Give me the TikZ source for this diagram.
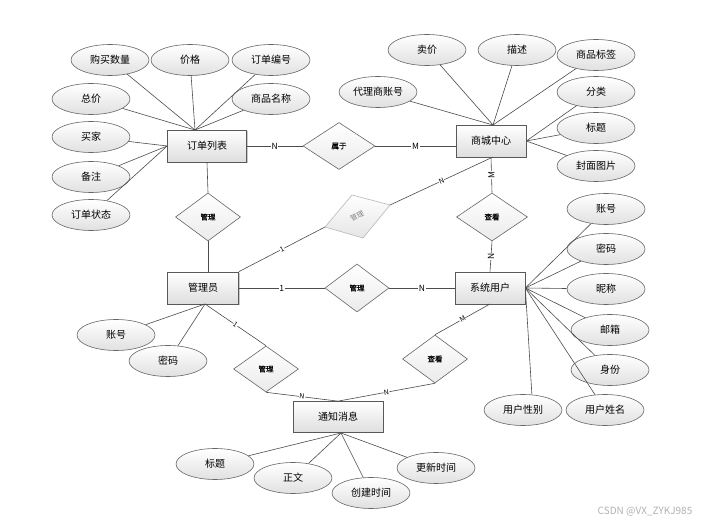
\documentclass[tikz,border=0pt]{standalone}
\usepackage{fontspec}
\setmainfont{Noto Sans CJK SC}
\newfontfamily\relfont[FakeBold=0.8]{Noto Sans CJK SC}
\usetikzlibrary{shapes.geometric,shadows}
\begin{document}
\begin{tikzpicture}[x=1pt,y=-1pt,
  ent/.style={draw=black!65, line width=0.7pt, top color=white, bottom color=black!13,
    minimum width=70pt, minimum height=32pt, inner sep=0pt,
    font=\fontsize{10}{12}\selectfont,
    drop shadow={shadow xshift=1pt, shadow yshift=-1pt, opacity=0.35, fill=black!60}},
  attr/.style={ellipse, draw=black!60, line width=0.6pt, top color=white, bottom color=black!12,
    minimum width=78pt, minimum height=31pt, inner sep=0pt,
    font=\fontsize{10}{12}\selectfont},
  rel/.style={diamond, draw=black!60, line width=0.6pt, top color=white, bottom color=black!8,
    minimum width=65pt, minimum height=48pt, inner sep=0pt,
    font=\relfont\fontsize{7.5}{9}\selectfont},
  ln/.style={draw=black!70, line width=0.6pt},
  card/.style={fill=white, inner sep=0.6pt, font=\fontsize{8.5}{9}\selectfont},
  scard/.style={fill=white, inner sep=0.4pt, font=\fontsize{7}{8}\selectfont, sloped}
]
\useasboundingbox (0,0) rectangle (721,526);
\fill[white] (0,0) rectangle (721,526);

% entities
\node[ent, minimum width=79pt] (ol) at (207,146) {订单列表};
\node[ent] (sc) at (491,141) {商城中心};
\node[ent, minimum width=71pt] (adm) at (203,288) {管理员};
\node[ent] (su) at (490,288) {系统用户};
\node[ent, minimum width=90pt, minimum height=31pt] (nt) at (338,417) {通知消息};

% relationships
\node[rel, minimum width=72pt, minimum height=47pt] (d1) at (339,146) {属于};
\node[rel] (d2) at (208,217) {管理};
\node[rel, minimum width=64pt] (d4) at (357,288) {管理};
\node[rel, minimum width=71pt] (d5) at (492,217) {查看};
\node[rel] (d6) at (435,359) {查看};
\node[rel, minimum height=46pt] (d7) at (266,369) {管理};

% gray skewed relationship
\coordinate (gT) at (352,195);
\coordinate (gR) at (390,205);
\coordinate (gB) at (363,238);
\coordinate (gL) at (325,227);
\path[draw=black!28, line width=0.6pt, top color=white, bottom color=black!10]
  (gT) -- (gR) -- (gB) -- (gL) -- cycle;
\node[text=black!50, rotate=28, inner sep=0pt, font=\fontsize{7}{8}\selectfont] (g) at (357,216) {管理};

% attachment points
\coordinate (olT) at (195,130);
\coordinate (scT) at (493,125);
\coordinate (scB) at (493,157);
\coordinate (suB) at (490,304);
\coordinate (admB) at (205,304);
\coordinate (ntB) at (341,433);

% order list attributes
\node[attr] (a1) at (110,60) {购买数量};
\node[attr] (a2) at (190,60) {价格};
\node[attr] (a3) at (271,60) {订单编号};
\node[attr] (a4) at (91,99) {总价};
\node[attr] (a5) at (271,99) {商品名称};
\node[attr] (a6) at (91,137) {买家};
\node[attr] (a7) at (91,177) {备注};
\node[attr] (a8) at (91,215) {订单状态};
\foreach \n in {a1,a2,a3,a4,a5} \draw[ln] (\n) -- (olT);
\foreach \n in {a6,a7,a8} \draw[ln] (\n) -- (ol.west);

% shopping center attributes
\node[attr] (b1) at (427,50) {卖价};
\node[attr] (b2) at (517,50) {描述};
\node[attr] (b3) at (596,55) {商品标签};
\node[attr] (b4) at (378,92) {代理商账号};
\node[attr] (b5) at (596,92) {分类};
\node[attr] (b6) at (596,128) {标题};
\node[attr] (b7) at (596,166) {封面图片};
\foreach \n in {b1,b2,b3,b4} \draw[ln] (\n) -- (scT);
\foreach \n in {b5,b6,b7} \draw[ln] (\n) -- (sc.east);

% system user attributes
\node[attr] (c1) at (606,209) {账号};
\node[attr] (c2) at (606,249) {密码};
\node[attr] (c3) at (606,289) {昵称};
\node[attr] (c4) at (610,330) {邮箱};
\node[attr] (c5) at (610,370) {身份};
\node[attr] (c6) at (605,410) {用户姓名};
\node[attr] (c7) at (523,410) {用户性别};
\foreach \n in {c1,c2,c3,c4,c5,c6} \draw[ln] (\n) -- (su.east);
\draw[ln] (su.east) -- (c7.60);

% admin attributes
\node[attr] (e1) at (116,335) {账号};
\node[attr] (e2) at (168,361) {密码};
\foreach \n in {e1,e2} \draw[ln] (\n) -- (admB);

% notification attributes
\node[attr] (f1) at (215,464) {标题};
\node[attr] (f2) at (293,478) {正文};
\node[attr] (f3) at (371,493) {创建时间};
\node[attr] (f4) at (436,468) {更新时间};
\foreach \n in {f1,f2,f3,f4} \draw[ln] (\n) -- (ntB);

% relationship connectors
\draw[ln] (ol.east) -- node[card] {N} (d1.west);
\draw[ln] (d1.east) -- node[card] {M} (d1.east -| sc.west);
\draw[ln] (ol.south) -- (d2.north);
\draw[ln] (d2.south) -- (d2.south |- adm.north);
\draw[ln] (adm.north east) -- node[scard] {1} (gL);
\draw[ln] (gR) -- node[scard] {N} (scB);
\draw[ln] (adm.east) -- node[card] {1} (d4.west);
\draw[ln] (d4.east) -- node[card] {N} (su.west);
\draw[ln] (sc.south) -- node[card, rotate=90] {M} (d5.north);
\draw[ln] (d5.south) -- node[card, rotate=90] {N} (su.north);
\draw[ln] (suB) -- node[scard] {M} (d6.north);
\draw[ln] (d6.south) -- node[scard] {N} (nt.north);
\draw[ln] (admB) -- node[scard] {1} (d7.north);
\draw[ln] (d7.south) -- node[scard] {N} (nt.north);

% watermark
\node[text=black!30, font=\fontsize{10}{11}\selectfont] (wm) at (645,512) {CSDN @VX\_ZYKJ985};
\end{tikzpicture}
\end{document}
